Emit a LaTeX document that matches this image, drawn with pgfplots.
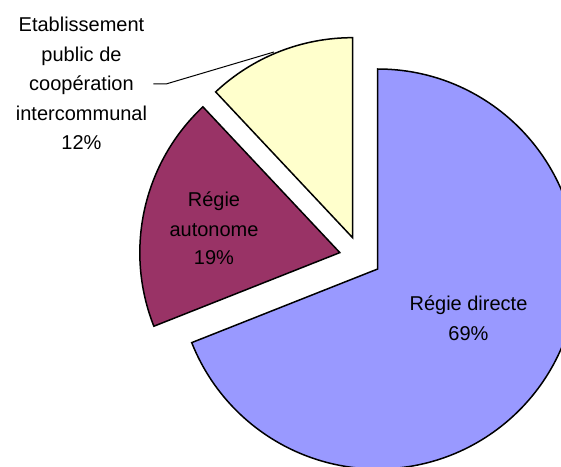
\documentclass[border=0pt]{standalone}
\usepackage{fontspec}
\setmainfont{Liberation Sans}
\usepackage{pgfplots}
\pgfplotsset{compat=1.18}
\definecolor{cblue}{HTML}{9999FF}
\definecolor{cmaroon}{HTML}{993366}
\definecolor{cyellow}{HTML}{FFFFCC}
\begin{document}
\begin{tikzpicture}
\fontsize{10}{15}\selectfont
% slice values (percent)
\def\vA{69}\def\vB{19}\def\vC{12}
\def\cx{360.3}\def\cy{208.8}\def\dd{21}
\pgfmathsetmacro\aA{90}
\pgfmathsetmacro\aB{\aA-3.6*\vA}
\pgfmathsetmacro\aC{\aB-3.6*\vB}
\pgfmathsetmacro\aD{\aC-3.6*\vC}
\pgfmathsetmacro\xA{\cx+\dd*cos((\aA+\aB)/2)}
\pgfmathsetmacro\yA{\cy+\dd*sin((\aA+\aB)/2)}
\pgfmathsetmacro\xB{\cx+\dd*cos((\aB+\aC)/2)}
\pgfmathsetmacro\yB{\cy+\dd*sin((\aB+\aC)/2)}
\pgfmathsetmacro\xC{\cx+\dd*cos((\aC+\aD)/2)}
\pgfmathsetmacro\yC{\cy+\dd*sin((\aC+\aD)/2)}
\useasboundingbox (0,0) rectangle (280.5pt,233pt);
\begin{axis}[x=0.5pt,y=0.5pt,xmin=0,xmax=561,ymin=0,ymax=466,
  axis lines=none,ticks=none,clip=true,scale only axis]
\addplot[draw=none] coordinates {(0,0) (561,466)};
\draw[fill=cblue,line width=0.75pt] (axis cs:\xA,\yA) -- ++(\aA:100pt) arc[start angle=\aA,end angle=\aB,radius=100pt] -- cycle;
\draw[fill=cmaroon,line width=0.75pt] (axis cs:\xB,\yB) -- ++(\aB:100pt) arc[start angle=\aB,end angle=\aC,radius=100pt] -- cycle;
\draw[fill=cyellow,line width=0.75pt] (axis cs:\xC,\yC) -- ++(\aC:100pt) arc[start angle=\aC,end angle=\aD,radius=100pt] -- cycle;
\draw[line width=0.5pt] (axis cs:153.3,382) -- (axis cs:166,382) -- (axis cs:274,414);
\node[anchor=base] at (axis cs:81.5,434.3) {Etablissement};
\node[anchor=base] at (axis cs:81.5,404.5) {public de};
\node[anchor=base] at (axis cs:81.5,375) {coopération};
\node[anchor=base] at (axis cs:81.5,345.3) {intercommunal};
\node[anchor=base] at (axis cs:81.5,316) {12\%};
\node[anchor=base] at (axis cs:214,259.3) {Régie};
\node[anchor=base] at (axis cs:214,229.3) {autonome};
\node[anchor=base] at (axis cs:214,201) {19\%};
\node[anchor=base] at (axis cs:468.5,156) {Régie directe};
\node[anchor=base] at (axis cs:468.5,126) {69\%};
\end{axis}
\end{tikzpicture}
\end{document}
